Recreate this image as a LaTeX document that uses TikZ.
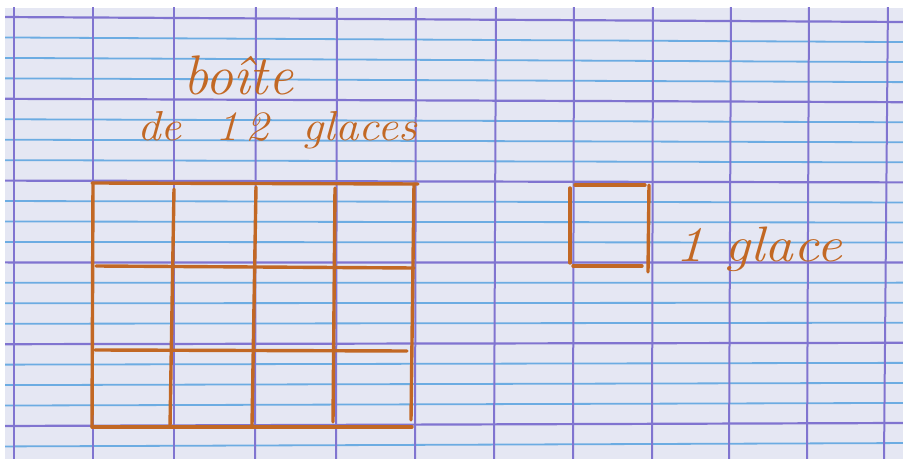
\documentclass[tikz,border=0pt]{standalone}
\usepackage{fontspec}
\setmainfont{Latin Modern Roman}
\definecolor{paper}{RGB}{229,231,243}
\definecolor{purpleline}{RGB}{128,116,208}
\definecolor{blueline}{RGB}{108,172,226}
\definecolor{ink}{RGB}{194,104,36}
\newcommand{\handspaceA}{\spaceskip=30bp\relax}
\newcommand{\handspaceB}{\spaceskip=18bp\relax}
\tikzset{
  major/.style={draw=purpleline, line width=2.2bp},
  minor/.style={draw=blueline, line width=1.8bp},
  vline/.style={draw=purpleline, line width=2bp},
  ink/.style={draw=ink, line width=3.4bp, line cap=round},
  hand/.style={text=ink, anchor=base west, inner sep=0pt, outer sep=0pt},
}
\begin{document}
\begin{tikzpicture}[x=1bp, y=-1bp]
\useasboundingbox (0,0) rectangle (903,459);
\fill[white] (0,0) rectangle (903,459);
\fill[paper] (5,8) rectangle (903,459);
\begin{scope}
\clip (5,8) rectangle (903,459);
% ruled lines (Seyes)
\foreach \k in {0,...,5}{
  \foreach \j in {1,2,3}{
    \pgfmathsetmacro{\yl}{17+81.8*(\k+\j/4)}
    \pgfmathsetmacro{\yr}{22+80.2*(\k+\j/4)}
    \path[minor] (0,\yl) -- (903,\yr);
  }
}
\foreach \k in {0,...,5}{
  \pgfmathsetmacro{\yl}{17+81.8*\k}
  \pgfmathsetmacro{\yr}{22+80.2*\k}
  \path[major] (0,\yl) -- (903,\yr);
}
\foreach \xt/\xb in {14/14, 93/93, 174/174, 256/255, 337/336, 416/415, 496/494, 574/573, 653/652, 731/729, 809/807, 888/884}{
  \path[vline] (\xt,0) -- (\xb,459);
}
\end{scope}
% box of 12
\draw[ink] (92,183) -- (418,184);
\draw[ink] (93,183) -- (92,427);
\draw[ink] (92,427) -- (412,427);
\draw[ink] (414,184) -- (411,420);
\draw[ink] (174,189) -- (170,427);
\draw[ink] (256,187) -- (252,425);
\draw[ink] (335,188) -- (333,422);
\draw[ink] (96,266) -- (414,268);
\draw[ink] (95,350) -- (407,351);
% single square
\draw[ink] (575,185) -- (645,185);
\draw[ink] (570,188) -- (570,263);
\draw[ink] (573,266) -- (642,266);
\draw[ink] (649,185) -- (648,272);
% texts
\node[hand, font=\fontsize{56}{60}\selectfont\itshape] (boite) at (183,95) {boîte};
\node[hand, font=\fontsize{42}{46}\selectfont\itshape, xscale=1.12] (douze) at (137,141) {\handspaceA de 1\kern6bp 2 glaces};
\node[hand, font=\fontsize{50}{54}\selectfont\itshape, xscale=1.15] (une) at (675,262) {\handspaceB 1 glace};
\end{tikzpicture}
\end{document}
